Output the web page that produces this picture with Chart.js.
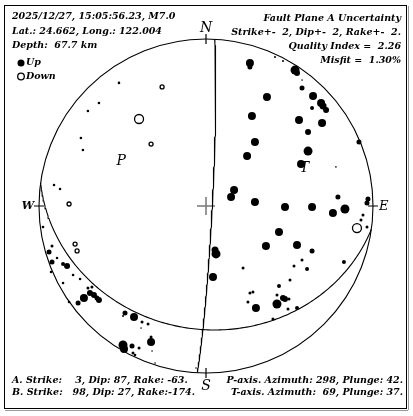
<!DOCTYPE html>
<html>
<head>
<meta charset="utf-8">
<style>
  html, body { margin: 0; padding: 0; background: #fff; }
  #wadah { position: relative; width: 413px; height: 416px; }
</style>
<script src="https://cdn.jsdelivr.net/npm/chart.js@4.4.1/dist/chart.umd.min.js"></script>
</head>
<body>
<div id="wadah"><canvas id="chartBola"></canvas></div>
<script>
// info gempa di pojok kiri atas
const infoGempa = ['2025/12/27, 15:05:56.23, M7.0', 'Lat.: 24.662, Long.: 122.004', 'Depth:  67.7 km'];
// info ketidakpastian di pojok kanan atas
const infoKetidakpastian = ['Fault Plane A Uncertainty', 'Strike+-  2, Dip+-  2, Rake+-  2.', 'Quality Index =  2.26', 'Misfit =  1.30%'];

// bidang sesar: strike, dip, rake
const bidangA = [3, 87, -63];
const bidangB = [98, 27, -174];
// sumbu P dan T: azimuth, plunge
const sumbuP = [298, 42];
const sumbuT = [69, 37];

// stasiun gerak awal naik (x, y di proyeksi luas sama, amplitudo)
const stasiunNaik = [
  [0.263, 0.856, 4], [0.263, 0.832, 2.5], [0.413, 0.892, 1], [0.461, 0.868, 1],
  [0.533, 0.814, 4.5], [0.545, 0.796, 3], [0.575, 0.754, 0.8], [0.575, 0.707, 2.5],
  [0.365, 0.653, 4], [0.641, 0.659, 4], [0.689, 0.617, 4], [0.701, 0.599, 3.5],
  [0.719, 0.575, 3], [0.635, 0.587, 2], [0.275, 0.539, 4], [0.557, 0.515, 4],
  [0.695, 0.497, 4], [0.611, 0.443, 3], [0.916, 0.383, 2.5], [0.293, 0.383, 4],
  [0.611, 0.329, 4.5], [0.246, 0.299, 4], [0.569, 0.251, 4], [0.778, 0.234, 0.8],
  [0.168, 0.096, 4], [0.150, 0.054, 4], [0.293, 0.024, 4], [0.473, -0.006, 4],
  [0.635, -0.006, 4], [0.790, 0.054, 2.5], [0.832, -0.018, 4.5], [0.760, -0.042, 4],
  [0.970, 0.042, 2.5], [0.964, 0.018, 2.5], [0.940, -0.054, 1.5], [0.928, -0.084, 1.5],
  [0.964, -0.126, 1.5], [0.437, -0.156, 4], [0.359, -0.240, 4], [0.545, -0.234, 4],
  [0.635, -0.269, 2.5], [0.060, -0.287, 4.5], [0.054, -0.263, 3.5], [0.575, -0.323, 1.5],
  [0.527, -0.359, 1.5], [0.605, -0.377, 2], [0.222, -0.371, 1.5], [0.826, -0.335, 2],
  [0.042, -0.425, 4], [0.503, -0.443, 1.5], [0.437, -0.479, 2], [0.263, -0.521, 1.5],
  [0.281, -0.515, 1.5], [0.425, -0.533, 1.5], [0.461, -0.551, 3], [0.473, -0.557, 3],
  [0.497, -0.557, 1.5], [0.251, -0.575, 1.5], [0.299, -0.611, 4], [0.425, -0.587, 4.5],
  [0.491, -0.617, 1.5], [0.545, -0.611, 2], [0.401, -0.677, 1.5],
  [-0.521, 0.737, 1.3], [-0.641, 0.617, 1.3], [-0.707, 0.569, 1.3], [-0.749, 0.407, 1.3],
  [-0.737, 0.335, 1.3], [-0.910, 0.126, 1.3], [-0.874, 0.102, 1.3], [-0.976, -0.126, 1.3],
  [-0.922, -0.240, 1.5], [-0.940, -0.275, 2.5], [-0.892, -0.311, 1.3], [-0.922, -0.335, 2.5],
  [-0.856, -0.347, 2], [-0.832, -0.359, 3], [-0.928, -0.395, 1.3], [-0.796, -0.413, 1.3],
  [-0.754, -0.437, 1.3], [-0.856, -0.461, 1.3], [-0.707, -0.491, 1.5], [-0.683, -0.485, 1.5],
  [-0.695, -0.521, 3], [-0.671, -0.533, 3], [-0.731, -0.551, 4], [-0.641, -0.563, 3],
  [-0.653, -0.551, 2.5], [-0.820, -0.575, 1.3], [-0.766, -0.581, 2.5], [-0.485, -0.641, 2.5],
  [-0.497, -0.659, 1], [-0.431, -0.665, 4], [-0.383, -0.695, 1.5], [-0.347, -0.707, 1.5],
  [-0.389, -0.731, 0.8], [-0.497, -0.832, 4.5], [-0.491, -0.856, 4], [-0.443, -0.838, 2.5],
  [-0.329, -0.814, 4], [-0.329, -0.784, 1.5], [-0.401, -0.850, 1.5], [-0.437, -0.880, 1.5],
  [-0.425, -0.892, 1.3], [-0.323, -0.868, 0.8], [-0.305, -0.940, 0.8], [-0.060, -0.970, 0.8]
];

// stasiun gerak awal turun
const stasiunTurun = [
  [-0.263, 0.713, 2], [-0.401, 0.521, 4.5], [-0.329, 0.371, 2], [-0.820, 0.012, 2],
  [-0.784, -0.228, 2], [-0.772, -0.269, 2], [0.904, -0.132, 4.5]
];

document.addEventListener('DOMContentLoaded', () => {
  if (typeof Chart === 'undefined') return;

  const rad = Math.PI / 180;
  const hurufTebal = 'italic bold 9.5px "DejaVu Serif"';

  // proyeksi luas sama (Schmidt), belahan bawah
  function proyeksi(trend, plunge) {
    const r = Math.SQRT2 * Math.sin((90 - plunge) / 2 * rad);
    return { x: r * Math.sin(trend * rad), y: r * Math.cos(trend * rad) };
  }

  // garis bidang nodal dari strike & dip
  function garisBidang(strike, dip) {
    const s = strike * rad, d = dip * rad;
    const titik = [];
    for (let t = 0; t <= 180; t += 1) {
      const tt = t * rad;
      const n = Math.cos(tt) * Math.cos(s) + Math.sin(tt) * Math.cos(d) * Math.cos(s + Math.PI / 2);
      const e = Math.cos(tt) * Math.sin(s) + Math.sin(tt) * Math.cos(d) * Math.sin(s + Math.PI / 2);
      const z = Math.sin(tt) * Math.sin(d);
      titik.push(proyeksi(Math.atan2(e, n) / rad, Math.asin(Math.min(1, z)) / rad));
    }
    return titik;
  }

  const keTitik = arr => arr.map(([x, y]) => ({ x, y }));

  // teks bawah dirakit dari data bidang & sumbu
  const teksBidang = (nama, b) =>
    `${nama}. Strike: ${String(b[0]).padStart(4)}, Dip: ${b[1]}, Rake:${String(b[2]).padStart(4)}.`;
  const teksSumbu = (nama, a) =>
    `${nama}-axis. Azimuth: ${String(a[0]).padStart(3)}, Plunge: ${a[1]}.`;

  // plugin buat gambar lingkaran, tanda arah, dan semua teks
  const pluginDekor = {
    id: 'dekor',
    beforeDraw(chart) {
      const c = chart.ctx;
      c.save();
      c.fillStyle = '#fff';
      c.fillRect(0, 0, chart.width, chart.height);
      c.strokeStyle = '#000';
      c.lineWidth = 1;
      c.strokeRect(4.5, 5.5, 402, 403);
      c.strokeStyle = '#999';
      c.beginPath(); c.moveTo(5, 410.5); c.lineTo(408, 410.5); c.moveTo(408.5, 6); c.lineTo(408.5, 410); c.stroke();
      c.restore();
    },
    beforeDatasetsDraw(chart) {
      const c = chart.ctx, sx = chart.scales.x, sy = chart.scales.y;
      const cx = sx.getPixelForValue(0), cy = sy.getPixelForValue(0);
      const R = sx.getPixelForValue(1) - cx;
      c.save();
      c.strokeStyle = '#000';
      c.lineWidth = 1.1;
      c.beginPath(); c.arc(cx, cy, R, 0, Math.PI * 2); c.stroke();
      // tanda N E S W
      c.lineWidth = 1.2;
      c.beginPath();
      c.moveTo(cx, cy - R - 5); c.lineTo(cx, cy - R + 5);
      c.moveTo(cx, cy + R - 5); c.lineTo(cx, cy + R + 5);
      c.moveTo(cx - R - 5, cy); c.lineTo(cx - R + 5, cy);
      c.moveTo(cx + R - 5, cy); c.lineTo(cx + R + 5, cy);
      c.stroke();
      // silang tengah
      c.strokeStyle = '#777';
      c.lineWidth = 1.5;
      c.beginPath();
      c.moveTo(cx - 9, cy); c.lineTo(cx + 9, cy);
      c.moveTo(cx, cy - 9); c.lineTo(cx, cy + 9);
      c.stroke();
      c.restore();
    },
    afterDatasetsDraw(chart) {
      const c = chart.ctx, sx = chart.scales.x, sy = chart.scales.y;
      const cx = sx.getPixelForValue(0), cy = sy.getPixelForValue(0);
      const R = sx.getPixelForValue(1) - cx;
      c.save();
      c.fillStyle = '#000';
      c.textBaseline = 'middle';

      // label arah
      c.font = 'italic 14px "DejaVu Serif"';
      c.textAlign = 'center';
      c.fillText('N', cx, cy - R - 11);
      c.fillText('S', cx, cy + R + 13);
      c.font = 'italic bold 11px "DejaVu Serif"';
      c.textAlign = 'right';
      c.fillText('W', cx - R - 5, cy);
      c.textAlign = 'left';
      c.font = 'italic 13px "DejaVu Serif"';
      c.fillText('E', cx + R + 6, cy + 1);

      // label P dan T
      c.font = 'italic 14px "DejaVu Serif"';
      c.textAlign = 'center';
      const p = proyeksi(sumbuP[0], sumbuP[1]);
      const t = proyeksi(sumbuT[0], sumbuT[1]);
      c.fillText('P', sx.getPixelForValue(p.x), sy.getPixelForValue(p.y));
      c.fillText('T', sx.getPixelForValue(t.x), sy.getPixelForValue(t.y));

      // teks info
      c.font = hurufTebal;
      c.textAlign = 'left';
      infoGempa.forEach((s, i) => c.fillText(s, 12, 17 + i * 14.5));
      c.textAlign = 'right';
      infoKetidakpastian.forEach((s, i) => c.fillText(s, 401, 19 + i * 14));

      // legenda
      c.textAlign = 'left';
      c.beginPath(); c.arc(21, 63, 3.5, 0, Math.PI * 2); c.fill();
      c.lineWidth = 1.3;
      c.beginPath(); c.arc(21, 76.5, 3.3, 0, Math.PI * 2); c.stroke();
      c.fillText('Up', 26, 63);
      c.fillText('Down', 26, 77);

      // teks bawah
      c.fillText(teksBidang('A', bidangA), 12, 381);
      c.fillText(teksBidang('B', bidangB), 12, 393);
      c.textAlign = 'right';
      c.fillText(teksSumbu('P', sumbuP), 403, 381);
      c.fillText(teksSumbu('T', sumbuT), 403, 393);
      c.restore();
    }
  };

  const konteks = document.getElementById('chartBola').getContext('2d');
  new Chart(konteks, {
    type: 'scatter',
    data: {
      datasets: [
        {
          label: 'Up',
          data: keTitik(stasiunNaik),
          pointRadius: stasiunNaik.map(s => s[2]),
          pointBackgroundColor: '#000',
          pointBorderWidth: 0,
          order: 1
        },
        {
          label: 'Down',
          data: keTitik(stasiunTurun),
          pointRadius: stasiunTurun.map(s => s[2]),
          pointBackgroundColor: '#fff',
          pointBorderColor: '#000',
          pointBorderWidth: 1.3,
          order: 1
        },
        {
          label: 'Bidang A',
          data: garisBidang(bidangA[0], bidangA[1]),
          showLine: true,
          pointRadius: 0,
          borderColor: '#000',
          borderWidth: 1.1,
          order: 2
        },
        {
          label: 'Bidang B',
          data: garisBidang(bidangB[0], bidangB[1]),
          showLine: true,
          pointRadius: 0,
          borderColor: '#000',
          borderWidth: 1.1,
          order: 2
        }
      ]
    },
    options: {
      responsive: true,
      maintainAspectRatio: false,
      animation: false,
      layout: { padding: { left: 39, top: 39, right: 40, bottom: 43 } },
      plugins: { legend: { display: false }, tooltip: { enabled: false } },
      scales: {
        x: { type: 'linear', min: -1, max: 1, display: false },
        y: { type: 'linear', min: -1, max: 1, display: false }
      }
    },
    plugins: [pluginDekor]
  });
});
</script>
</body>
</html>
